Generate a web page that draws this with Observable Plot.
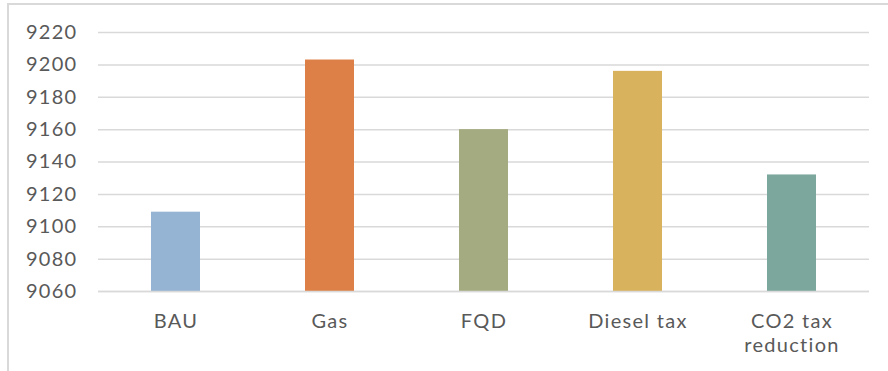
<!DOCTYPE html>
<html>
<head>
<meta charset="utf-8">
<script src="https://cdn.jsdelivr.net/npm/d3@7"></script>
<script src="https://cdn.jsdelivr.net/npm/@observablehq/plot@0.6"></script>
<style>
  html, body { margin: 0; padding: 0; background: #fff; overflow: hidden; }
  #wrap { position: relative; width: 888px; height: 371px; }
  #frame { position: absolute; left: 7px; top: 3px; width: 881px; height: 368px;
           border-left: 2px solid #d9d9d9; border-top: 2px solid #d9d9d9; box-sizing: border-box; }
  #chart { position: absolute; left: 0; top: 0; }
  #chart text { letter-spacing: 1.3px; }
</style>
</head>
<body>
<div id="wrap"><div id="frame"></div><div id="chart"></div></div>
<script>
const categories = ["BAU", "Gas", "FQD", "Diesel tax", "CO2 tax\nreduction"];
const values = [9109, 9203, 9160, 9196, 9132];
const colors = ["#95b3d3", "#dd8047", "#a5ab81", "#d8b25c", "#7ba79d"];
const yTicks = [9060, 9080, 9100, 9120, 9140, 9160, 9180, 9200, 9220];

const data = categories.map((c, i) => ({ category: c, value: values[i], color: colors[i] }));

const chart = Plot.plot({
  width: 888,
  height: 371,
  marginLeft: 98,
  marginRight: 19,
  marginTop: 32,
  marginBottom: 80,
  style: { fontFamily: "Lato, sans-serif", fontSize: "20px", color: "#595959", background: "transparent" },
  x: { domain: categories, paddingInner: 0.68, paddingOuter: 0.34, label: null },
  y: { domain: [9060, 9220], label: null },
  marks: [
    Plot.gridY(yTicks, { stroke: "#d9d9d9", strokeOpacity: 1, strokeWidth: 1.5 }),
    Plot.barY(data, { x: "category", y1: 9060, y2: "value", fill: "color" }),
    Plot.ruleY([9060], { stroke: "#d9d9d9", strokeWidth: 1.5 }),
    Plot.axisY(yTicks, { tickSize: 0, tickPadding: 21, fill: "#595959", fontSize: 20, label: null, tickFormat: d => String(d) }),
    Plot.axisX({ tickSize: 0, tickPadding: 19, fill: "#595959", fontSize: 20, lineHeight: 1.2, label: null })
  ]
});
document.getElementById("chart").appendChild(chart);
</script>
</body>
</html>
